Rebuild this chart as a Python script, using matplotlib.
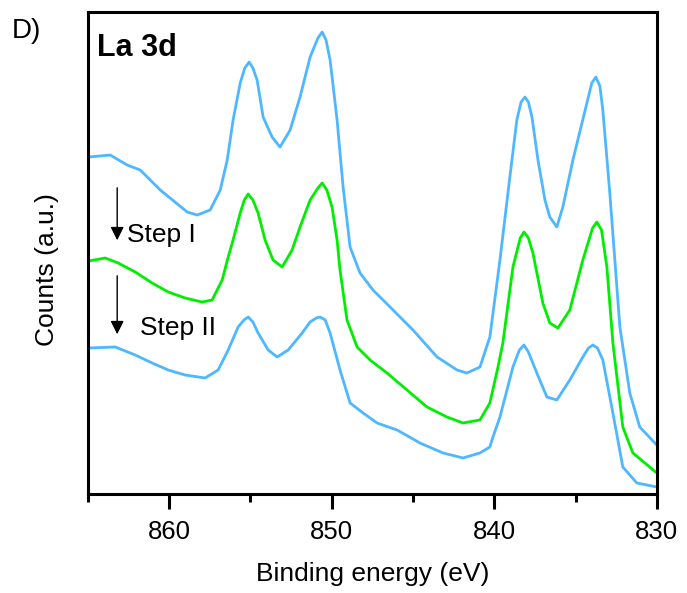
import matplotlib
matplotlib.use("Agg")
import matplotlib.pyplot as plt

plt.rcParams["font.family"] = ["Liberation Sans", "DejaVu Sans"]

# La 3d spectra, binding energy (eV) vs counts (a.u.)
energyTop = [864.98, 863.63, 862.58, 861.78, 860.55, 858.89, 858.28, 857.48, 856.86, 856.43,
             856.07, 855.63, 855.35, 855.08, 854.85, 854.59, 854.22, 853.67, 853.18, 852.56,
             851.95, 851.33, 850.85, 850.59, 850.35, 850.10, 849.67, 849.30, 848.87, 848.26,
             847.46, 846.41, 845.00, 843.52, 842.29, 841.68, 840.88, 840.27, 839.65, 839.04,
             838.61, 838.35, 838.11, 837.90, 837.68, 837.31, 836.88, 836.58, 836.15, 835.78,
             835.16, 834.30, 834.00, 833.75, 833.50, 833.32, 832.89, 832.27, 831.66, 831.05,
             830.00]
countsTop = [333, 335, 325, 320, 300, 278, 275, 280, 300, 330,
             370, 407, 422, 428, 422, 410, 373, 353, 343, 360,
             393, 433, 452, 458, 450, 430, 370, 303, 243, 217,
             200, 183, 160, 133, 120, 117, 123, 153, 230, 313,
             370, 388, 393, 388, 373, 330, 290, 273, 263, 283,
             330, 387, 407, 413, 404, 380, 297, 163, 97, 63,
             45]

energyStep1 = [864.98, 863.93, 863.14, 862.09, 861.05, 860.06, 859.02, 857.97, 857.36, 856.74,
               856.37, 856.07, 855.63, 855.38, 855.14, 854.85, 854.53, 854.10, 853.61, 853.05,
               852.44, 851.95, 851.33, 850.85, 850.59, 850.30, 849.98, 849.67, 849.49, 849.06,
               848.44, 847.64, 846.60, 845.37, 844.14, 842.91, 841.92, 840.88, 840.27, 839.77,
               839.47, 838.85, 838.40, 838.17, 837.90, 837.62, 837.01, 836.58, 836.08, 835.35,
               834.55, 833.95, 833.69, 833.40, 833.07, 832.70, 832.09, 831.47, 830.00]
countsStep1 = [229, 232, 227, 218, 207, 198, 192, 188, 190, 210,
               233, 250, 277, 290, 296, 290, 277, 250, 230, 223,
               240, 263, 290, 302, 307, 300, 283, 250, 220, 170,
               143, 130, 117, 100, 83, 73, 67, 70, 87, 123,
               147, 223, 252, 258, 252, 237, 187, 167, 162, 180,
               230, 262, 268, 260, 223, 147, 63, 37, 17]

energyStep2 = [864.98, 863.32, 862.09, 861.05, 860.06, 859.02, 857.79, 856.99, 856.37, 855.76,
               855.40, 855.14, 854.85, 854.53, 853.91, 853.36, 852.68, 851.82, 851.33, 850.95,
               850.72, 850.40, 850.10, 849.49, 848.87, 848.07, 847.21, 845.98, 844.57, 843.15,
               841.92, 840.88, 840.27, 840.08, 839.65, 838.85, 838.45, 838.17, 837.90, 837.38,
               836.76, 836.15, 835.35, 834.55, 834.20, 833.93, 833.65, 833.32, 832.70, 832.09,
               831.23, 830.00]
countsStep2 = [142, 143, 135, 127, 120, 115, 112, 120, 140, 163,
               170, 173, 168, 157, 140, 133, 140, 157, 168, 172,
               173, 170, 157, 120, 87, 77, 67, 60, 47, 37,
               32, 37, 43, 53, 73, 123, 140, 145, 138, 117,
               93, 90, 110, 133, 142, 145, 142, 130, 77, 23,
               7, 3]

xTicks = [860, 850, 840, 830]
xMinorTicks = [865, 855, 845, 835]

blue = "#4db8ff"
green = "#00ee00"

fig = plt.figure(figsize=(6.87, 5.93), dpi=100)
ax = fig.add_axes([0.128, 0.167, 0.828, 0.8135])

ax.plot(energyTop, countsTop, color=blue, lw=2.0)
ax.plot(energyStep1, countsStep1, color=green, lw=2.0)
ax.plot(energyStep2, countsStep2, color=blue, lw=2.0)

ax.set_xlim(865, 830)
ax.set_ylim(-4, 478.5)
ax.set_xticks(xTicks)
ax.set_xticks(xMinorTicks, minor=True)
ax.set_yticks([])
ax.tick_params(axis="x", which="major", direction="out", length=11, width=2.2, labelsize=18.5, pad=8)
ax.tick_params(axis="x", which="minor", direction="out", length=6, width=2.2)
for s in ax.spines.values():
    s.set_linewidth(2.2)

ax.set_xlabel("Binding energy (eV)", fontsize=19, labelpad=13)
fig.text(47 / 687, 1 - 270 / 593, "Counts (a.u.)", rotation=90, fontsize=19, ha="center", va="center")

ax.text(0.016, 0.955, "La 3d", transform=ax.transAxes, fontsize=22, fontweight="bold", va="top", ha="left")
fig.text(12 / 687, 1 - 31 / 593, "D)", fontsize=20, va="center", ha="left")

# step arrows
arrowStyle = dict(arrowstyle="-|>", color="black", lw=1.0, mutation_scale=20)
ax.annotate("", xy=(863.2, 247), xytext=(863.2, 305), arrowprops=arrowStyle)
ax.annotate("", xy=(863.2, 153), xytext=(863.2, 217), arrowprops=arrowStyle)
ax.text(862.6, 255, "Step I", fontsize=19, va="center", ha="left")
ax.text(861.8, 162, "Step II", fontsize=19, va="center", ha="left")

fig.savefig("out.png", dpi=100)
